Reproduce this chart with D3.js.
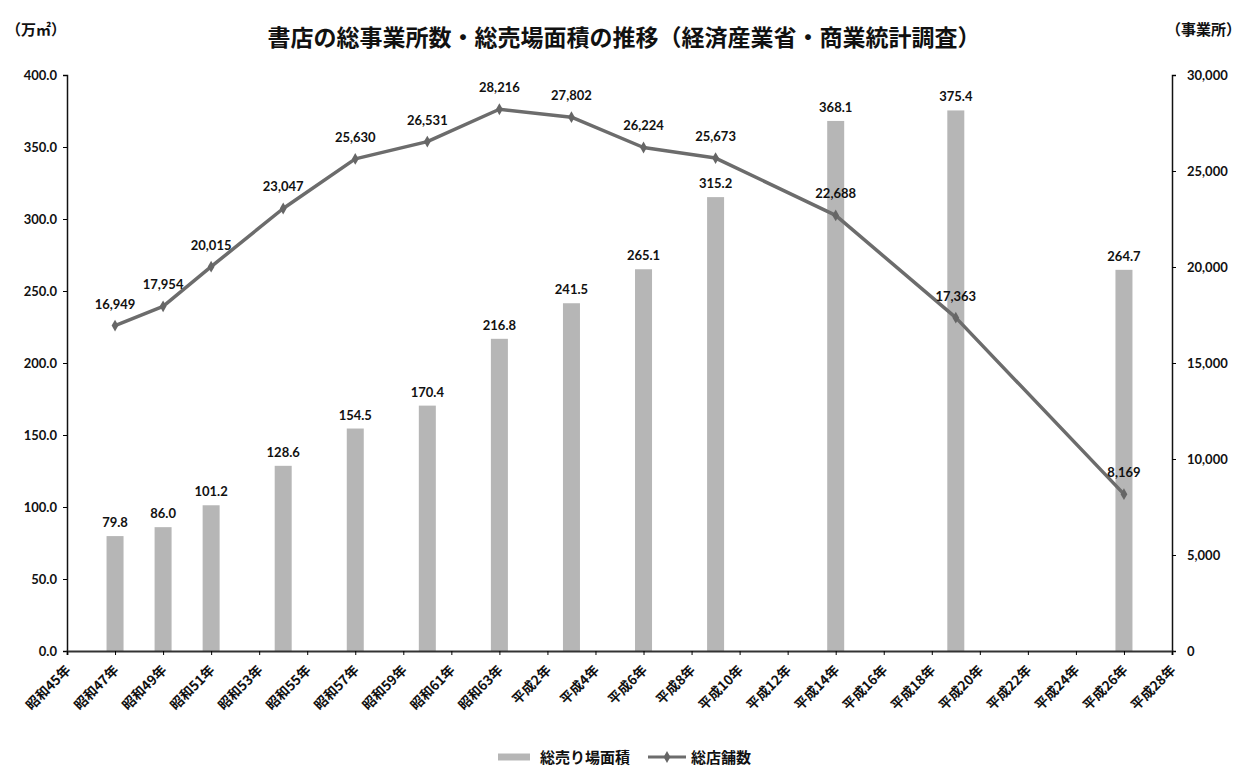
<!DOCTYPE html>
<html>
<head>
<meta charset="utf-8">
<script src="https://cdn.jsdelivr.net/npm/d3@7"></script>
<style>
body { margin: 0; background: #fff; }
text { font-family: Lato, "Noto Sans CJK JP", sans-serif; font-weight: bold; fill: #111; }
.jp { font-family: "Noto Sans CJK JP", sans-serif; }
</style>
</head>
<body>
<script>
//survey years (the x axis is a year scale)
var years = [1972, 1974, 1976, 1979, 1982, 1985, 1988, 1991, 1994, 1997, 2002, 2007, 2014];
//total sales floor area (万㎡)
var area = [79.8, 86.0, 101.2, 128.6, 154.5, 170.4, 216.8, 241.5, 265.1, 315.2, 368.1, 375.4, 264.7];
//total number of stores
var stores = [16949, 17954, 20015, 23047, 25630, 26531, 28216, 27802, 26224, 25673, 22688, 17363, 8169];

//x tick years and labels
var tickYears = [1970, 1972, 1974, 1976, 1978, 1980, 1982, 1984, 1986, 1988, 1990, 1992,
	1994, 1996, 1998, 2000, 2002, 2004, 2006, 2008, 2010, 2012, 2014, 2016];
var tickLabels = ["昭和45年", "昭和47年", "昭和49年", "昭和51年", "昭和53年", "昭和55年",
	"昭和57年", "昭和59年", "昭和61年", "昭和63年", "平成2年", "平成4年", "平成6年",
	"平成8年", "平成10年", "平成12年", "平成14年", "平成16年", "平成18年", "平成20年",
	"平成22年", "平成24年", "平成26年", "平成28年"];
var leftTicks = [0, 50, 100, 150, 200, 250, 300, 350, 400];
var rightTicks = [0, 5000, 10000, 15000, 20000, 25000, 30000];

drawChart();

function drawChart(){

	var width = 1251, height = 767;
	var pLeft = 67, pRight = 1172, pTop = 75, pBottom = 651;

	var svg = d3.select("body").append("svg")
		.attr("width", width)
		.attr("height", height);

	var x = d3.scaleLinear().domain([1970, 2016]).range([pLeft, pRight]);
	var yL = d3.scaleLinear().domain([0, 400]).range([pBottom, pTop]);
	var yR = d3.scaleLinear().domain([0, 30000]).range([pBottom, pTop]);

	//title
	svg.append("text")
		.attr("class", "jp")
		.attr("x", 624).attr("y", 46)
		.attr("text-anchor", "middle")
		.style("font-size", "23px")
		.text("書店の総事業所数・総売場面積の推移（経済産業省・商業統計調査）");

	svg.append("text").attr("class", "jp")
		.attr("x", 6).attr("y", 35)
		.style("font-size", "15px")
		.text("（万㎡）");
	svg.append("text").attr("class", "jp")
		.attr("x", 1166).attr("y", 35)
		.style("font-size", "15px")
		.text("（事業所）");

	//bars
	svg.selectAll(".bar")
		.data(years)
		.enter().append("rect")
		.attr("class", "bar")
		.attr("x", function(d){ return x(d) - 8.5; })
		.attr("width", 17)
		.attr("y", function(d, i){ return yL(area[i]); })
		.attr("height", function(d, i){ return pBottom - yL(area[i]); })
		.attr("fill", "#b6b6b6");

	//left axis
	var axL = svg.append("g")
		.attr("transform", "translate(" + pLeft + ",0)")
		.call(d3.axisLeft(yL).tickValues(leftTicks).tickSize(4).tickFormat(d3.format(".1f")));
	axL.select(".domain").attr("stroke", "#111").attr("stroke-width", 1.5);
	axL.selectAll("text").style("font-size", "13px").attr("x", -10);

	//right axis
	var axR = svg.append("g")
		.attr("transform", "translate(" + pRight + ",0)")
		.call(d3.axisRight(yR).tickValues(rightTicks).tickSize(4).tickFormat(d3.format(",")));
	axR.select(".domain").attr("stroke", "#111").attr("stroke-width", 1.5);
	axR.selectAll("text").style("font-size", "13px").attr("x", 15);

	//x axis
	var axX = svg.append("g")
		.attr("transform", "translate(0," + pBottom + ")")
		.call(d3.axisBottom(x).tickValues(tickYears).tickSize(4)
			.tickFormat(function(d, i){ return tickLabels[i]; }));
	axX.select(".domain").attr("stroke", "#333").attr("stroke-width", 2);
	axX.selectAll("text")
		.attr("class", "jp")
		.style("font-size", "13.5px")
		.attr("text-anchor", "end")
		.attr("dy", null)
		.attr("y", 0)
		.attr("transform", "translate(4,20) rotate(-45)");

	//line
	var line = d3.line()
		.x(function(d){ return x(d); })
		.y(function(d, i){ return yR(stores[i]); });

	svg.append("path")
		.datum(years)
		.attr("d", line)
		.attr("fill", "none")
		.attr("stroke", "#6c6c6c")
		.attr("stroke-width", 3.5)
		.attr("stroke-linejoin", "round");

	svg.selectAll(".pt")
		.data(years)
		.enter().append("path")
		.attr("class", "pt")
		.attr("d", d3.symbol().type(d3.symbolDiamond).size(40))
		.attr("transform", function(d, i){ return "translate(" + x(d) + "," + yR(stores[i]) + ")"; })
		.attr("fill", "#666");

	//bar labels
	svg.selectAll(".blab")
		.data(years)
		.enter().append("text")
		.attr("class", "blab")
		.attr("x", function(d){ return x(d); })
		.attr("y", function(d, i){ return yL(area[i]) - 9; })
		.attr("text-anchor", "middle")
		.style("font-size", "13px")
		.text(function(d, i){ return area[i].toFixed(1); });

	//line labels
	svg.selectAll(".llab")
		.data(years)
		.enter().append("text")
		.attr("class", "llab")
		.attr("x", function(d){ return x(d); })
		.attr("y", function(d, i){ return yR(stores[i]) - 17; })
		.attr("text-anchor", "middle")
		.style("font-size", "13px")
		.text(function(d, i){ return d3.format(",")(stores[i]); });

	//legend
	var lg = svg.append("g");
	lg.append("line").attr("x1", 498).attr("x2", 530).attr("y1", 757).attr("y2", 757)
		.attr("stroke", "#b6b6b6").attr("stroke-width", 7);
	lg.append("text").attr("class", "jp").attr("x", 540).attr("y", 763)
		.style("font-size", "15px").text("総売り場面積");
	lg.append("line").attr("x1", 648).attr("x2", 686).attr("y1", 757).attr("y2", 757)
		.attr("stroke", "#6c6c6c").attr("stroke-width", 3);
	lg.append("path").attr("d", d3.symbol().type(d3.symbolDiamond).size(40))
		.attr("transform", "translate(667,757)").attr("fill", "#666");
	lg.append("text").attr("class", "jp").attr("x", 691).attr("y", 763)
		.style("font-size", "15px").text("総店舗数");
}
</script>
</body>
</html>
